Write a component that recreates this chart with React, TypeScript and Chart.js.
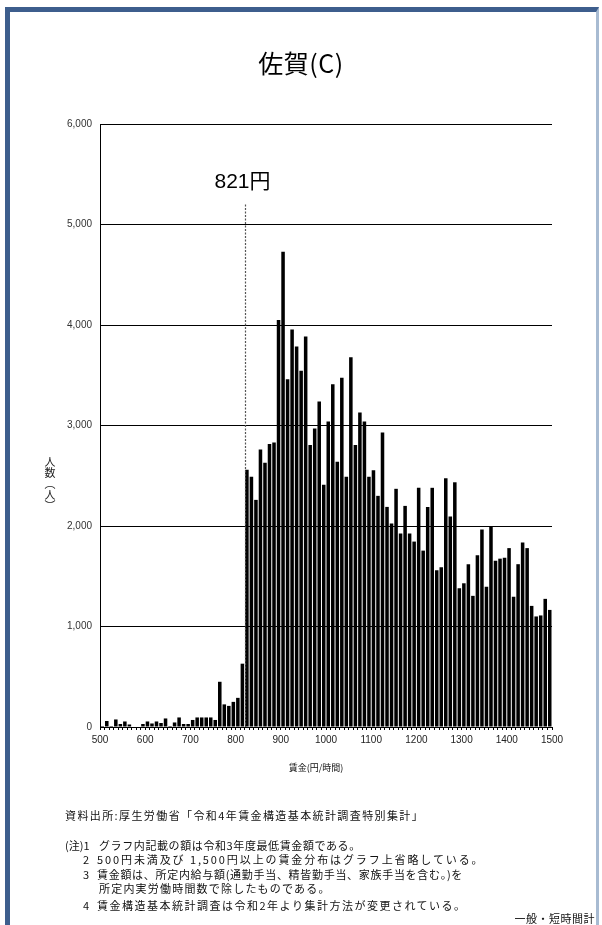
import React, { useEffect, useRef } from "react";
import { Chart, registerables } from "chart.js";

Chart.register(...registerables);

// Wage bins (lower bound of each 10-yen class, yen/hour)
const wageBins = [
  500, 510, 520, 530, 540, 550, 560, 570, 580, 590,
  600, 610, 620, 630, 640, 650, 660, 670, 680, 690,
  700, 710, 720, 730, 740, 750, 760, 770, 780, 790,
  800, 810, 820, 830, 840, 850, 860, 870, 880, 890,
  900, 910, 920, 930, 940, 950, 960, 970, 980, 990,
  1000, 1010, 1020, 1030, 1040, 1050, 1060, 1070, 1080, 1090,
  1100, 1110, 1120, 1130, 1140, 1150, 1160, 1170, 1180, 1190,
  1200, 1210, 1220, 1230, 1240, 1250, 1260, 1270, 1280, 1290,
  1300, 1310, 1320, 1330, 1340, 1350, 1360, 1370, 1380, 1390,
  1400, 1410, 1420, 1430, 1440, 1450, 1460, 1470, 1480, 1490,
];

// Number of workers (persons) in each bin
const workers = [
  10, 60, 10, 75, 30, 55, 25, 5, 5, 30,
  55, 35, 55, 40, 85, 10, 45, 95, 30, 30,
  70, 95, 95, 95, 95, 70, 450, 225, 210, 250,
  290, 630, 2560, 2490, 2260, 2760, 2630, 2815, 2830, 4050,
  4730, 3460, 3955, 3785, 3545, 3885, 2805, 2970, 3240, 2410,
  3040, 3410, 2640, 3475, 2490, 3680, 2805, 3130, 3040, 2490,
  2555, 2300, 2930, 2190, 2025, 2370, 1925, 2200, 1925, 1845,
  2380, 1755, 2190, 2380, 1560, 1590, 2475, 2095, 2435, 1380,
  1430, 1620, 1305, 1710, 1965, 1395, 1990, 1655, 1675, 1685,
  1780, 1295, 1620, 1835, 1780, 1205, 1100, 1110, 1275, 1165,
];

const xMin = 500;
const xMax = 1500;
const binWidth = 10;
const yMax = 6000;
const yStep = 1000;
const minimumWage = 821;
const markerTop = 5200;
const markerLabelValue = 5420;

const titleText = "佐賀(C)";
const xTitle = "賃金(円/時間)";
const yTitle = "人数（人）";
const sourceText = "資料出所:厚生労働省「令和4年賃金構造基本統計調査特別集計」";
const notes = [
  { label: "(注)1", text: "グラフ内記載の額は令和3年度最低賃金額である。" },
  { label: "2", text: "500円未満及び 1,500円以上の賃金分布はグラフ上省略している。" },
  { label: "3", text: "賃金額は、所定内給与額(通勤手当、精皆勤手当、家族手当を含む。)を" },
  { label: "", text: "所定内実労働時間数で除したものである。" },
  { label: "4", text: "賃金構造基本統計調査は令和2年より集計方法が変更されている。" },
];
const footerText = "一般・短時間計";

const noteFont = "'Noto Sans CJK JP', sans-serif";

export default function App() {
  const canvasRef = useRef<HTMLCanvasElement | null>(null);

  useEffect(() => {
    if (!canvasRef.current) return;
    const points = wageBins.map((b, i) => ({ x: b + binWidth / 2, y: workers[i] }));

    const markerPlugin = {
      id: "minWageMarker",
      afterDatasetsDraw(chart: any) {
        const { ctx, scales } = chart;
        const xs = scales.x;
        const ys = scales.y;
        const px = Math.round(xs.getPixelForValue(minimumWage)) + 0.5;
        const top = ys.getPixelForValue(markerTop);
        const bottom = ys.getPixelForValue(0);
        ctx.save();
        ctx.strokeStyle = "#555";
        ctx.lineWidth = 1.2;
        ctx.setLineDash([2, 1.5]);
        ctx.beginPath();
        ctx.moveTo(px, top);
        ctx.lineTo(px, bottom);
        ctx.stroke();
        ctx.setLineDash([]);
        ctx.fillStyle = "#000";
        ctx.font = "21px 'Liberation Sans', 'Noto Sans CJK JP', sans-serif";
        ctx.textAlign = "center";
        ctx.textBaseline = "middle";
        ctx.fillText(`${minimumWage}円`, px - 3, ys.getPixelForValue(markerLabelValue));
        ctx.restore();
      },
    };

    const chart = new Chart(canvasRef.current, {
      type: "bar",
      data: {
        datasets: [
          {
            label: "人数",
            data: points,
            backgroundColor: "#000",
            borderWidth: 0,
            barPercentage: 1,
            categoryPercentage: 0.78,
          } as any,
        ],
      },
      options: {
        animation: false,
        responsive: false,
        maintainAspectRatio: false,
        events: [],
        layout: { padding: { left: 60, right: 50, top: 124, bottom: 148 } },
        font: { family: "'Liberation Sans', 'Noto Sans CJK JP', sans-serif" },
        plugins: {
          legend: { display: false },
          tooltip: { enabled: false },
          title: { display: false },
        },
        scales: {
          x: {
            type: "linear",
            min: xMin,
            max: xMax,
            offset: false,
            afterFit: (s: any) => {
              s.height = 50;
            },
            ticks: {
              stepSize: binWidth,
              autoSkip: false,
              maxRotation: 0,
              minRotation: 0,
              padding: 4,
              color: "#222",
              font: { size: 10, family: "'Liberation Sans', sans-serif" },
              callback: (v: any) => (Math.round(Number(v)) % 100 === 0 ? String(Math.round(Number(v))) : ""),
            },
            grid: {
              display: true,
              drawOnChartArea: false,
              drawTicks: true,
              tickLength: 3,
              color: "#000",
              offset: false,
            },
            border: { display: true, color: "#000", width: 1 },
          } as any,
          y: {
            min: 0,
            max: yMax,
            afterFit: (s: any) => {
              s.width = 40;
            },
            ticks: {
              stepSize: yStep,
              padding: 8,
              color: "#333",
              font: { size: 10, family: "'Liberation Sans', sans-serif" },
              callback: (v: any) => Number(v).toLocaleString("en-US"),
            },
            grid: { color: "#000", lineWidth: 1, drawTicks: false },
            border: { display: true, color: "#000", width: 1 },
          } as any,
        },
      },
      plugins: [markerPlugin],
    });

    return () => {
      chart.destroy();
    };
  }, []);

  const noteTops = [838, 852, 867, 881, 898];
  const noteSpacing = [0.6, 1.9, 0.7, 1.2, 1.5];

  return (
    <div
      style={{
        position: "absolute",
        left: 0,
        top: 0,
        width: 602,
        height: 925,
        background: "#fff",
        overflow: "hidden",
      }}
    >
      <div
        style={{
          position: "absolute",
          left: 5,
          top: 7,
          width: 594,
          height: 940,
          boxSizing: "border-box",
          borderLeft: "5px solid #3d5e8d",
          borderTop: "5px solid #3d5e8d",
          borderRight: "3px solid #a8bbd2",
        }}
      />
      <canvas
        ref={canvasRef}
        width={602}
        height={925}
        style={{ position: "absolute", left: 0, top: 0, display: "block" }}
      />
      <div
        style={{
          position: "absolute",
          left: 0,
          width: 602,
          top: 48,
          height: 28,
          lineHeight: "28px",
          textAlign: "center",
          fontSize: 25,
          letterSpacing: 0.5,
          fontFamily: "'Noto Sans CJK JP', sans-serif",
          color: "#000",
        }}
      >
        {titleText}
      </div>
      <div
        style={{
          position: "absolute",
          left: 44,
          top: 456,
          writingMode: "vertical-rl",
          fontSize: 11,
          lineHeight: "11px",
          fontFamily: noteFont,
          color: "#222",
        }}
      >
        {yTitle}
      </div>
      <div
        style={{
          position: "absolute",
          left: 216,
          width: 200,
          top: 761,
          lineHeight: "14px",
          textAlign: "center",
          fontSize: 9,
          fontFamily: noteFont,
          color: "#111",
        }}
      >
        {xTitle}
      </div>
      <div
        style={{
          position: "absolute",
          left: 65,
          top: 808,
          fontSize: 11,
          lineHeight: "14px",
          letterSpacing: 1.4,
          fontFamily: noteFont,
          whiteSpace: "nowrap",
          color: "#111",
        }}
      >
        {sourceText}
      </div>
      {notes.map((n, i) => {
        const labelLeft = i === 0 ? 65 : 83;
        return (
          <React.Fragment key={i}>
            {n.label && (
              <div
                style={{
                  position: "absolute",
                  left: labelLeft,
                  top: noteTops[i],
                  fontSize: 11,
                  lineHeight: "14px",
                  fontFamily: noteFont,
                  whiteSpace: "nowrap",
                  color: "#111",
                }}
              >
                {n.label}
              </div>
            )}
            <div
              style={{
                position: "absolute",
                left: i === 0 || i === 3 ? 99 : 97,
                top: noteTops[i],
                fontSize: 11,
                lineHeight: "14px",
                letterSpacing: noteSpacing[i],
                fontFamily: noteFont,
                whiteSpace: "nowrap",
                color: "#111",
              }}
            >
              {n.text}
            </div>
          </React.Fragment>
        );
      })}
      <div
        style={{
          position: "absolute",
          right: 7,
          top: 911,
          fontSize: 11,
          lineHeight: "14px",
          letterSpacing: 0.5,
          fontFamily: noteFont,
          whiteSpace: "nowrap",
          color: "#111",
        }}
      >
        {footerText}
      </div>
    </div>
  );
}
